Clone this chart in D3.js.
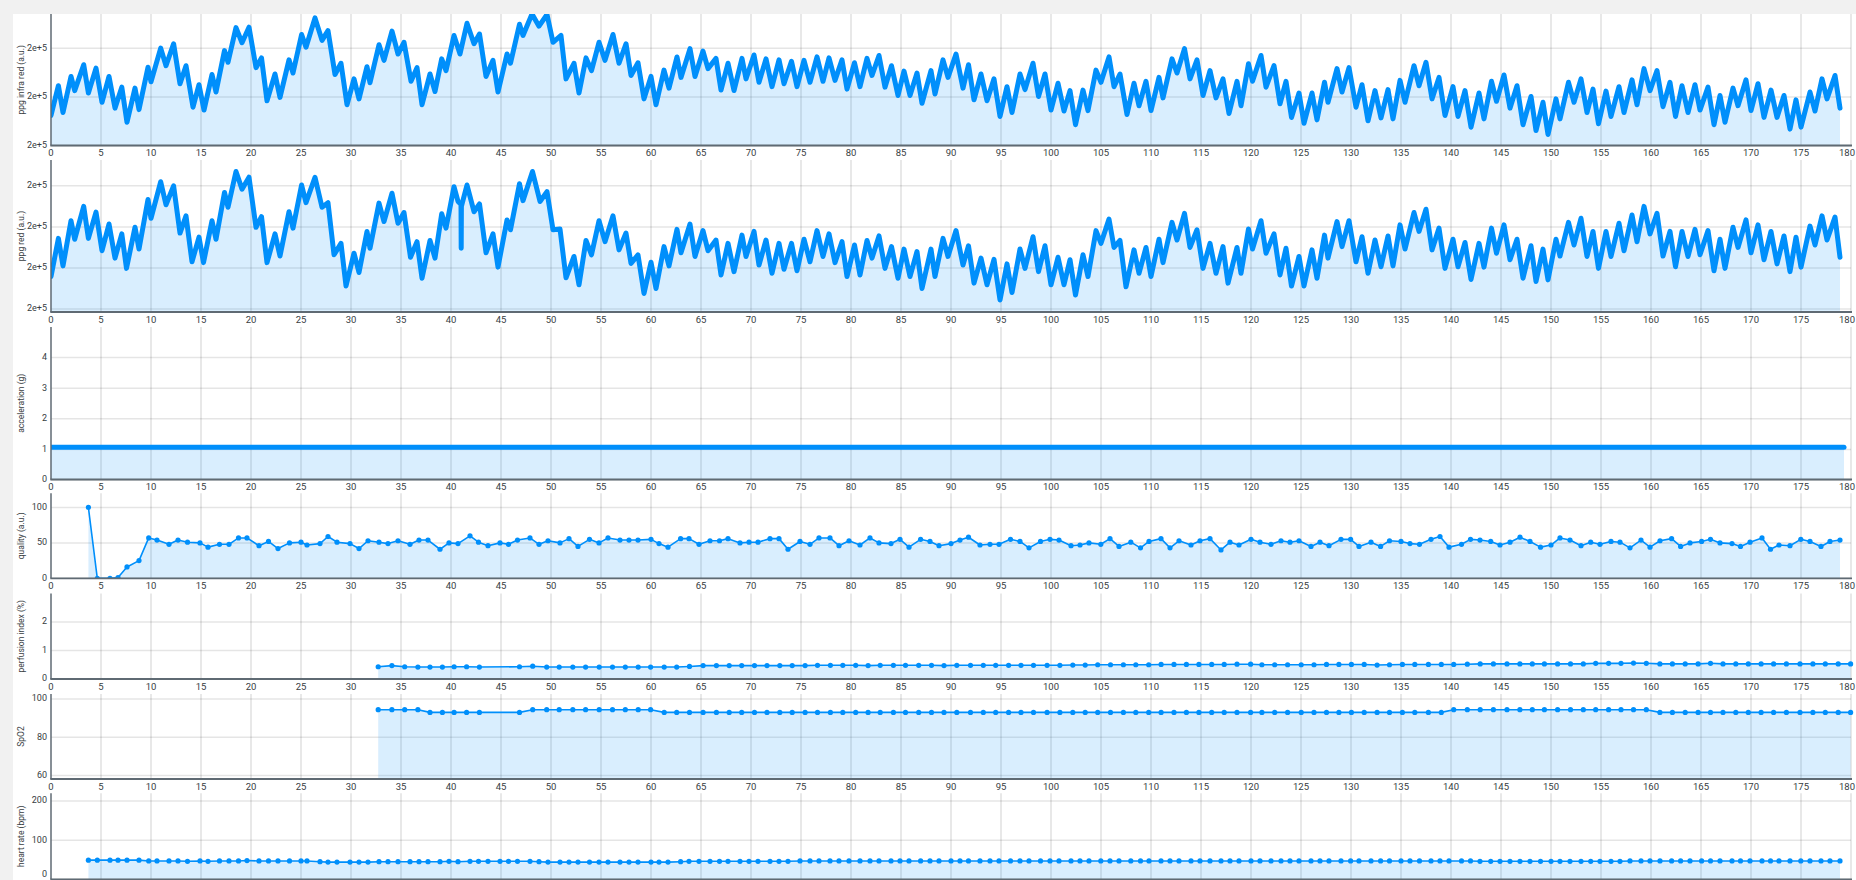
<!DOCTYPE html>
<html><head><meta charset="utf-8">
<script src="https://cdn.jsdelivr.net/npm/d3@7"></script>
<style>
html,body{margin:0;padding:0;background:#f1f1f1;overflow:hidden;}
svg{display:block;}
</style></head><body>
<svg id="c" width="1856" height="880"></svg>
<script>
// ---------------- DATA ----------------
const xTickValues = [0,5,10,15,20,25,30,35,40,45,50,55,60,65,70,75,80,85,90,95,100,105,110,115,120,125,130,135,140,145,150,155,160,165,170,175,180];

const ppgInfraTicks = [196000,197000,198000];
const ppgRedTicks = [195000,196000,197000,198000];
const accelTicks = [0,1,2,3,4];
const qualityTicks = [0,50,100];
const perfusionTicks = [0,1,2];
const spo2Ticks = [60,80,100];
const heartRateTicks = [0,100,200];

const ppgInfraRed = [[0,196620],[0.74,197230],[1.2,196680],[2.0,197420],[2.37,197130],[3.27,197660],[3.74,197080],[4.5,197590],[5.1,196890],[5.8,197420],[6.4,196770],[7.08,197200],[7.6,196480],[8.4,197180],[8.8,196740],[9.7,197610],[10.0,197310],[10.97,198000],[11.5,197640],[12.26,198090],[12.9,197270],[13.5,197640],[14.2,196790],[14.8,197250],[15.3,196730],[16.1,197460],[16.5,197100],[17.35,197950],[17.7,197710],[18.5,198420],[19.1,198110],[19.8,198430],[20.5,197600],[21.05,197800],[21.6,196920],[22.4,197470],[22.9,196990],[23.8,197760],[24.2,197490],[25.06,198280],[25.5,198020],[26.4,198620],[27.1,198160],[27.7,198360],[28.4,197460],[29.0,197690],[29.6,196840],[30.3,197370],[30.8,196960],[31.6,197620],[31.9,197290],[32.8,198070],[33.3,197750],[34.1,198350],[34.7,197880],[35.3,198120],[36.0,197320],[36.6,197600],[37.1,196840],[37.9,197470],[38.4,197110],[39.07,197780],[39.5,197540],[40.3,198260],[40.9,197880],[41.6,198510],[42.3,198090],[42.85,198290],[43.5,197420],[44.2,197750],[44.7,197100],[45.6,197880],[45.95,197690],[46.85,198490],[47.2,198260],[48.1,198700],[48.8,198450],[49.6,198690],[50.2,198120],[51.0,198260],[51.5,197370],[52.3,197690],[52.8,197080],[53.5,197800],[54.05,197540],[54.8,198120],[55.4,197750],[56.2,198280],[56.8,197690],[57.5,198090],[58.0,197440],[58.7,197700],[59.3,196960],[60.0,197420],[60.5,196840],[61.3,197550],[61.8,197180],[62.6,197820],[63.0,197400],[63.9,197990],[64.4,197420],[65.2,197940],[65.7,197580],[66.5,197790],[67.0,197140],[67.7,197690],[68.3,197130],[69.1,197790],[69.5,197370],[70.3,197860],[70.8,197300],[71.5,197780],[72.1,197210],[72.8,197760],[73.3,197270],[74.05,197730],[74.6,197210],[75.3,197750],[75.9,197300],[76.6,197820],[77.2,197320],[77.8,197800],[78.4,197340],[79.1,197760],[79.6,197160],[80.35,197700],[80.9,197210],[81.6,197790],[82.1,197440],[82.8,197850],[83.4,197200],[84.05,197640],[84.7,197030],[85.3,197530],[85.9,197030],[86.6,197490],[87.1,196870],[88.0,197540],[88.4,197060],[89.2,197760],[89.7,197400],[90.5,197880],[91.2,197180],[91.75,197660],[92.3,196940],[93.0,197470],[93.6,196920],[94.3,197370],[94.9,196600],[95.6,197210],[96.1,196680],[96.9,197470],[97.4,197150],[98.2,197690],[98.75,197010],[99.4,197470],[100.0,196730],[100.7,197280],[101.3,196710],[101.9,197130],[102.45,196430],[103.2,197140],[103.7,196720],[104.5,197550],[105.0,197300],[105.8,197820],[106.3,197210],[106.9,197470],[107.6,196640],[108.3,197280],[108.8,196820],[109.5,197320],[110.0,196720],[110.8,197400],[111.2,196980],[112.1,197780],[112.6,197490],[113.35,197990],[113.9,197370],[114.6,197760],[115.2,197030],[115.9,197540],[116.5,196980],[117.2,197370],[117.8,196660],[118.6,197320],[119.0,196820],[119.75,197680],[120.15,197320],[121.0,197850],[121.5,197200],[122.3,197640],[122.9,196860],[123.5,197320],[124.05,196580],[124.8,197080],[125.3,196460],[126.1,197080],[126.6,196530],[127.35,197300],[127.7,196890],[128.6,197580],[129.1,197100],[129.8,197600],[130.5,196790],[131.1,197250],[131.7,196510],[132.4,197130],[133.0,196570],[133.7,197150],[134.2,196550],[134.9,197340],[135.4,196890],[136.3,197640],[136.8,197230],[137.5,197710],[138.1,196960],[138.8,197400],[139.4,196620],[140.2,197210],[140.7,196600],[141.4,197130],[142.0,196380],[142.8,197080],[143.3,196550],[144.05,197320],[144.55,196910],[145.3,197450],[145.9,196770],[146.6,197230],[147.2,196430],[148.0,197010],[148.5,196310],[149.2,196890],[149.7,196230],[150.5,196960],[150.9,196550],[151.75,197300],[152.3,196890],[153.0,197370],[153.6,196680],[154.2,197160],[154.75,196450],[155.5,197120],[156.0,196600],[156.8,197210],[157.3,196680],[158.1,197350],[158.6,196840],[159.3,197580],[159.9,197130],[160.6,197540],[161.2,196800],[161.9,197300],[162.45,196600],[163.1,197230],[163.7,196680],[164.4,197250],[164.9,196730],[165.7,197200],[166.3,196430],[166.9,197030],[167.4,196480],[168.2,197180],[168.7,196820],[169.5,197350],[170.0,196720],[170.7,197270],[171.3,196580],[172.0,197140],[172.6,196580],[173.3,197030],[173.9,196340],[174.5,196940],[175.0,196380],[175.9,197100],[176.4,196710],[177.1,197370],[177.6,196960],[178.4,197440],[178.9,196770]];

const ppgRed = [[0,195790],[0.74,196720],[1.2,196050],[2.0,197150],[2.37,196700],[3.27,197500],[3.74,196720],[4.5,197360],[5.1,196420],[5.8,197070],[6.4,196240],[7.08,196830],[7.55,195990],[8.4,196990],[8.8,196460],[9.7,197670],[10.0,197210],[10.97,198100],[11.5,197540],[12.26,198000],[12.9,196850],[13.5,197270],[14.1,196150],[14.8,196750],[15.25,196130],[16.1,197150],[16.5,196700],[17.35,197840],[17.7,197480],[18.5,198350],[19.1,197920],[19.8,198210],[20.5,196990],[21.05,197250],[21.6,196130],[22.4,196830],[22.9,196290],[23.8,197370],[24.2,196970],[25.06,198020],[25.5,197590],[26.4,198210],[27.1,197480],[27.7,197590],[28.3,196320],[29.0,196600],[29.5,195560],[30.3,196360],[30.8,195890],[31.6,196890],[31.9,196480],[32.8,197580],[33.3,197130],[34.1,197820],[34.7,197090],[35.3,197350],[35.95,196260],[36.6,196640],[37.1,195750],[37.9,196670],[38.4,196240],[39.07,197320],[39.5,196970],[40.3,197980],[40.7,197620],[41.0,197550],[41.02,196480],[41.04,197500],[41.6,198020],[42.3,197370],[42.85,197560],[43.5,196370],[44.2,196830],[44.7,196020],[45.6,197170],[45.95,196930],[46.85,198050],[47.2,197640],[48.15,198350],[48.9,197620],[49.6,197860],[50.2,196930],[50.9,196950],[51.5,195760],[52.3,196280],[52.8,195590],[53.5,196670],[54.05,196320],[54.8,197150],[55.4,196640],[56.2,197270],[56.8,196440],[57.5,196850],[58.0,196110],[58.7,196320],[59.3,195380],[60.0,196140],[60.5,195500],[61.3,196520],[61.8,196050],[62.6,196940],[63.0,196370],[63.9,197070],[64.4,196280],[65.2,196910],[65.7,196420],[66.5,196680],[67.0,195830],[67.7,196600],[68.3,195910],[69.1,196800],[69.5,196280],[70.3,196890],[70.8,196070],[71.5,196680],[72.1,195870],[72.8,196600],[73.3,195970],[74.05,196600],[74.6,195930],[75.3,196700],[75.9,196150],[76.6,196910],[77.2,196280],[77.8,196830],[78.4,196130],[79.1,196640],[79.6,195790],[80.35,196560],[80.9,195830],[81.6,196670],[82.1,196240],[82.8,196780],[83.4,195990],[84.05,196520],[84.7,195750],[85.3,196460],[85.9,195790],[86.6,196400],[87.1,195500],[88.0,196460],[88.4,195790],[89.2,196720],[89.7,196280],[90.5,196910],[91.2,196070],[91.75,196540],[92.3,195630],[93.0,196240],[93.6,195590],[94.3,196210],[94.9,195220],[95.6,196100],[96.1,195400],[96.9,196460],[97.4,195990],[98.2,196760],[98.75,195910],[99.4,196540],[100.0,195590],[100.7,196260],[101.3,195590],[101.9,196200],[102.45,195340],[103.2,196320],[103.7,195790],[104.5,196910],[105.0,196600],[105.8,197190],[106.3,196500],[106.9,196670],[107.5,195540],[108.3,196440],[108.8,195870],[109.5,196500],[110.0,195790],[110.8,196700],[111.2,196130],[112.1,197110],[112.6,196680],[113.35,197330],[113.9,196500],[114.6,196930],[115.2,195990],[115.9,196600],[116.5,195870],[117.2,196520],[117.7,195630],[118.6,196500],[119.0,195870],[119.75,196950],[120.15,196460],[121.0,197150],[121.5,196360],[122.3,196830],[122.9,195830],[123.5,196480],[124.05,195560],[124.8,196280],[125.3,195560],[126.1,196440],[126.6,195750],[127.35,196800],[127.7,196240],[128.6,197130],[129.1,196520],[129.8,197150],[130.5,196150],[131.1,196760],[131.7,195870],[132.4,196680],[133.0,196030],[133.7,196780],[134.2,196050],[134.9,197050],[135.4,196460],[136.3,197350],[136.8,196890],[137.5,197430],[138.1,196440],[138.8,196970],[139.4,195990],[140.2,196700],[140.7,196030],[141.4,196620],[142.0,195720],[142.8,196600],[143.3,196020],[144.05,196970],[144.55,196360],[145.3,197050],[145.9,196200],[146.6,196700],[147.2,195750],[148.0,196540],[148.5,195670],[149.2,196460],[149.7,195710],[150.5,196700],[150.9,196290],[151.75,197110],[152.3,196560],[153.0,197210],[153.6,196280],[154.2,196890],[154.75,195990],[155.5,196890],[156.0,196280],[156.8,197090],[157.3,196420],[158.1,197290],[158.6,196640],[159.3,197500],[159.9,196830],[160.6,197330],[161.2,196290],[161.9,196890],[162.45,196030],[163.1,196890],[163.7,196280],[164.4,196940],[164.9,196320],[165.7,196910],[166.3,195930],[166.9,196700],[167.4,195990],[168.2,196990],[168.7,196500],[169.5,197170],[170.0,196370],[170.7,197050],[171.3,196200],[172.0,196890],[172.6,196100],[173.3,196780],[173.9,195910],[174.5,196750],[175.0,196020],[175.9,197020],[176.4,196560],[177.1,197270],[177.6,196680],[178.4,197240],[178.9,196260]];

const accelerationTime = [0,10,20,30,40,50,60,70,80,90,100,110,120,130,140,150,160,170,179.3];
const accelerationValues = [1.07,1.07,1.07,1.07,1.07,1.07,1.07,1.07,1.07,1.07,1.07,1.07,1.07,1.07,1.07,1.07,1.07,1.07,1.07];

const qualityTime = [3.74,4.63,5.9,6.7,7.6,8.8,9.77,10.6,11.8,12.7,13.65,14.9,15.7,16.85,17.8,18.75,19.6,20.8,21.75,22.7,23.85,25.0,25.6,26.9,27.7,28.6,29.9,30.8,31.7,32.8,33.7,34.7,35.9,36.8,37.7,38.9,39.8,40.7,41.9,42.75,43.7,44.9,45.75,46.65,47.9,48.8,49.7,50.9,51.8,52.7,53.85,54.8,55.7,56.9,57.8,58.7,60.0,
 60.8,61.7,62.96,63.8,64.8,65.9,66.85,67.7,68.9,69.8,70.7,71.9,72.8,73.7,74.9,75.9,76.8,77.9,78.8,79.8,80.9,81.9,82.8,84.0,84.9,85.8,86.96,87.9,88.8,90.0,90.9,91.75,92.9,93.9,94.8,95.95,96.9,97.8,98.95,99.9,100.8,102.0,102.9,103.8,104.98,105.9,106.8,107.98,108.95,109.8,111.0,111.9,112.8,114.0,114.9,115.9,117.0,117.9,118.8,120.0,
 120.9,122.0,123.0,123.9,124.8,126.0,126.9,127.8,129.0,129.96,130.8,132.0,132.96,133.85,135.0,135.9,136.85,138.0,138.9,139.8,141.05,141.95,142.9,143.97,144.9,145.9,146.9,147.9,148.95,150.0,150.9,151.9,153.0,153.97,154.9,156.0,156.9,157.9,159.0,159.9,160.9,162.06,162.96,163.9,165.06,165.95,166.9,168.1,168.95,169.9,171.1,171.95,172.8,173.9,174.98,175.9,177.0,177.9,178.9];
const qualityValues = [100,0,0,1,16,25,57,54,48,54,51,50,44,48,48,57,57,46,52,42,50,51,47,49,59,51,49,42,53,51,49,53,48,54,54,41,50,49,60,51,46,50,48,54,57,48,53,50,56,45,55,50,57,54,54,54,55,
 49,44,56,56,48,53,53,56,50,51,51,56,56,41,52,48,57,57,46,53,47,57,50,49,55,44,55,52,46,49,54,58,47,48,48,55,52,43,52,55,54,46,47,50,48,56,45,51,43,52,56,43,53,47,53,56,40,51,47,55,
 51,48,53,51,53,45,51,46,55,55,45,51,45,53,52,49,48,55,59,44,48,55,54,52,47,51,58,52,44,47,57,54,46,51,48,52,51,43,54,44,53,56,45,50,52,55,50,49,45,51,57,41,47,46,55,52,45,52,54];
const heartRateValues = [49,49,49,49,49,49,47,47,47,47,46,47,46,47,47,47,48,47,47,47,47,47,47,45,44,44,44,44,44,45,45,45,45,45,45,45,46,45,46,46,46,46,46,46,46,45,44,44,44,44,44,44,44,44,44,44,44,
 44,44,45,46,46,46,46,46,46,46,46,46,46,46,47,47,47,47,47,47,47,47,47,47,47,47,47,47,47,47,47,47,47,47,47,47,47,47,47,47,47,47,47,47,47,47,47,47,47,47,47,47,47,47,47,47,47,47,47,47,
 47,47,47,47,47,47,47,47,47,47,47,47,47,47,47,47,47,47,47,47,47,47,46,46,46,46,46,46,46,46,46,46,46,46,46,46,46,47,47,47,47,47,47,47,47,47,47,47,47,47,47,47,47,47,47,47,47,47,47];

const vitalsTime = [32.72,34.09,35.37,36.69,37.9,39.14,40.31,41.56,42.84,46.85,48.17,49.57,50.82,52.18,53.46,54.82,56.15,57.43,58.72,59.96,
 61.32,62.57,63.85,65.21,66.54,67.82,69.07,70.35,71.6,72.88,74.12,75.41,76.65,77.94,79.18,80.47,81.71,82.92,84.24,85.45,86.77,88.05,89.3,90.58,91.95,93.23,94.47,95.76,97.0,98.25,99.61,100.89,102.18,103.42,104.67,105.95,107.24,108.48,109.77,111.01,112.3,113.54,114.79,116.07,117.32,118.6,119.96,
 121.09,122.37,123.66,125.02,126.3,127.55,128.79,130.04,131.32,132.61,133.85,135.14,136.38,137.74,139.03,140.27,141.63,142.92,144.24,145.6,146.89,148.13,149.34,150.66,151.95,153.23,154.47,155.76,157.0,158.25,159.53,160.89,162.14,163.42,164.71,165.95,167.2,168.48,169.73,171.01,172.26,173.54,174.9,176.19,177.43,178.72,179.96];
const perfusionValues = [0.43,0.47,0.43,0.42,0.42,0.42,0.43,0.43,0.42,0.43,0.45,0.42,0.42,0.42,0.42,0.42,0.42,0.42,0.42,0.42,
 0.42,0.42,0.44,0.47,0.47,0.47,0.47,0.47,0.47,0.47,0.47,0.47,0.48,0.48,0.48,0.48,0.47,0.48,0.48,0.48,0.48,0.48,0.47,0.48,0.48,0.48,0.48,0.48,0.48,0.48,0.48,0.48,0.49,0.49,0.5,0.5,0.5,0.5,0.5,0.51,0.51,0.51,0.51,0.51,0.51,0.52,0.52,
 0.5,0.5,0.5,0.5,0.5,0.51,0.51,0.51,0.51,0.49,0.5,0.51,0.51,0.51,0.51,0.51,0.52,0.53,0.53,0.53,0.53,0.53,0.53,0.53,0.53,0.53,0.55,0.55,0.55,0.56,0.55,0.53,0.53,0.53,0.53,0.55,0.53,0.53,0.53,0.53,0.53,0.53,0.53,0.53,0.53,0.53,0.53];
const spo2Values = [94.4,94.4,94.4,94.4,93,93,93,93,93,93,94.4,94.4,94.4,94.4,94.4,94.4,94.4,94.4,94.4,94.4,
 93,93,93,93,93,93,93,93,93,93,93,93,93,93,93,93,93,93,93,93,93,93,93,93,93,93,93,93,93,93,93,93,93,93,93,93,93,93,93,93,93,93,93,93,93,93,93,
 93,93,93,93,93,93,93,93,93,93,93,93,93,93,93,94.4,94.4,94.4,94.4,94.4,94.4,94.4,94.4,94.4,94.4,94.4,94.4,94.4,94.4,94.4,94.4,93,93,93,93,93,93,93,93,93,93,93,93,93,93,93,93];

// ---------------- DRAW ----------------
const BLUE = "#008FFB";
const svg = d3.select("#c");
svg.append("rect").attr("x",13).attr("y",14).attr("width",1843).attr("height",866).attr("fill","#fff");

const x = d3.scaleLinear().domain([0,180]).range([51,1851]);
const sci = d3.format(".0e");
const plain = d3.format("d");
const zip = (t,v) => t.slice(0, Math.min(t.length, v.length)).map((d,i)=>[d, v[i]]);

const panels = [
  {title:"ppg infra red (a.u.)", top:14, bottom:145.5, domain:[196000,198700], range:[145.7,14], ticks:ppgInfraTicks, fmt:sci, data:ppgInfraRed, dense:true, xLabels:true},
  {title:"ppg red (a.u.)", top:160, bottom:312, domain:[194927,198630], range:[312,160], ticks:ppgRedTicks, fmt:sci, data:ppgRed, dense:true, xLabels:true},
  {title:"acceleration (g)", top:327, bottom:479.5, domain:[0,5], range:[480,327], ticks:accelTicks, fmt:plain, data:zip(accelerationTime,accelerationValues), dense:true, xLabels:true},
  {title:"quality (a.u.)", top:493.3, bottom:578.3, domain:[0,120], range:[578.3,493.3], ticks:qualityTicks, fmt:plain, data:zip(qualityTime,qualityValues), xLabels:true},
  {title:"perfusion index (%)", top:593.5, bottom:679, domain:[0,3], range:[679,593.5], ticks:perfusionTicks, fmt:plain, data:zip(vitalsTime,perfusionValues), xLabels:true},
  {title:"SpO2", top:694, bottom:779, domain:[58.2,102.6], range:[779,694], ticks:spo2Ticks, fmt:plain, data:zip(vitalsTime,spo2Values), xLabels:true},
  {title:"heart rate (bpm)", top:793.3, bottom:879.3, domain:[0,220], range:[879.3,793.3], ticks:heartRateTicks, fmt:plain, data:zip(qualityTime,heartRateValues), xLabels:false}
];

const FONT = "Roboto, 'Noto Sans', sans-serif";
const defs = svg.append("defs");

panels.forEach((p, i) => {
  const y = d3.scaleLinear().domain(p.domain).range(p.range);
  const g = svg.append("g");
  const cid = "clip" + i;
  defs.append("clipPath").attr("id", cid).append("rect")
    .attr("x", 51).attr("y", p.top).attr("width", 1805).attr("height", p.bottom - p.top);

  // vertical grid
  g.append("g").selectAll("line").data(xTickValues.filter(d => d > 0)).join("line")
    .attr("x1", d => x(d)).attr("x2", d => x(d))
    .attr("y1", p.top).attr("y2", p.bottom)
    .attr("stroke", "#000").attr("stroke-opacity", 0.12).attr("stroke-width", 1.5);
  // horizontal grid
  g.append("g").selectAll("line").data(p.ticks).join("line")
    .attr("x1", 51).attr("x2", 1851)
    .attr("y1", d => y(d)).attr("y2", d => y(d))
    .attr("stroke", "#000").attr("stroke-opacity", 0.1).attr("stroke-width", 1.5);

  const area = d3.area().x(d => x(d[0])).y0(p.bottom).y1(d => y(d[1]));
  const line = d3.line().x(d => x(d[0])).y(d => y(d[1]));
  const cg = g.append("g").attr("clip-path", `url(#${cid})`);
  cg.append("path").datum(p.data).attr("d", area).attr("fill", BLUE).attr("fill-opacity", 0.15);
  if (p.dense) {
    cg.append("path").datum(p.data).attr("d", line).attr("fill", "none")
      .attr("stroke", BLUE).attr("stroke-width", 5)
      .attr("stroke-linejoin", "round").attr("stroke-linecap", "round");
  } else {
    cg.append("path").datum(p.data).attr("d", line).attr("fill", "none")
      .attr("stroke", BLUE).attr("stroke-width", 1.6).attr("stroke-linejoin", "round");
    cg.append("g").selectAll("circle").data(p.data).join("circle")
      .attr("cx", d => x(d[0])).attr("cy", d => y(d[1])).attr("r", 2.6).attr("fill", BLUE);
  }

  // axis lines
  g.append("line").attr("x1", 51).attr("x2", 51).attr("y1", p.top).attr("y2", p.bottom)
    .attr("stroke", "#5f6a73").attr("stroke-width", 1.5);
  g.append("line").attr("x1", 50.3).attr("x2", 1852).attr("y1", p.bottom).attr("y2", p.bottom)
    .attr("stroke", "#5f6a73").attr("stroke-width", 1.8);

  // y tick labels
  g.append("g").selectAll("text").data(p.ticks).join("text")
    .attr("x", 47).attr("y", d => Math.min(y(d), 874.5)).attr("text-anchor", "end")
    .attr("dominant-baseline", "middle")
    .attr("font-family", FONT).attr("font-size", 9).attr("fill", "#373d3f")
    .text(d => p.fmt(d));
  // x tick labels
  if (p.xLabels) {
    g.append("g").selectAll("text").data(xTickValues).join("text")
      .attr("x", d => d === 180 ? 1855 : x(d)).attr("y", p.bottom + 8.3)
      .attr("text-anchor", d => d === 180 ? "end" : "middle")
      .attr("dominant-baseline", "middle")
      .attr("font-family", FONT).attr("font-size", 9.5).attr("fill", "#373d3f")
      .text(d => d);
  }
  // title
  const cy = (p.top + p.bottom) / 2;
  g.append("text").attr("transform", `translate(21.5,${cy}) rotate(-90)`)
    .attr("text-anchor", "middle").attr("dominant-baseline", "middle")
    .attr("font-family", FONT).attr("font-size", 8.5).attr("fill", "#373d3f")
    .text(p.title);
});
</script>
</body></html>
